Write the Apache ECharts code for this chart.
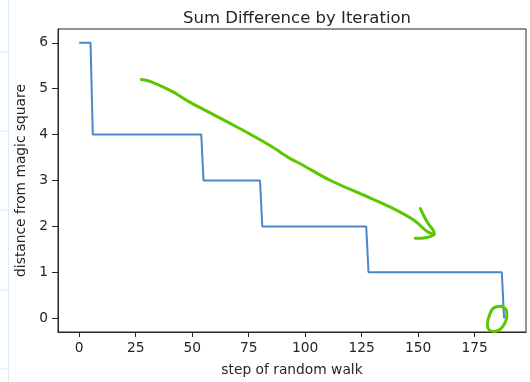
<!DOCTYPE html>
<html>
<head>
<meta charset="utf-8">
<script src="https://cdn.jsdelivr.net/npm/echarts@6/dist/echarts.min.js"></script>
<style>
  html, body { margin: 0; padding: 0; background: #fff; }
  #chart { width: 530px; height: 382px; }
</style>
</head>
<body>
<div id="chart"></div>
<script>
// step line: [step, distance]
const walkSteps = [0, 5, 6, 54, 55, 80, 81, 127, 128, 187, 188];
const walkDistance = [6, 6, 4, 4, 3, 3, 2, 2, 1, 1, 0];
const xTicks = [0, 25, 50, 75, 100, 125, 150, 175];
const yTicks = [0, 1, 2, 3, 4, 5, 6];

// hand-drawn green annotation in data units
const arrowX = [27.5, 31.9, 41.5, 48.1, 56.9, 65.7, 74.5, 84.8, 93.3, 98.0, 111.2, 125.9, 137.7, 148.0, 153.9, 157.1];
const arrowY = [5.20, 5.15, 4.93, 4.73, 4.50, 4.27, 4.04, 3.75, 3.48, 3.36, 3.00, 2.68, 2.42, 2.14, 1.89, 1.82];
const headX = [150.9, 153.9, 157.1, 153.9, 148.7];
const headY = [2.39, 2.10, 1.85, 1.76, 1.74];
const ringX = [187.0, 189.2, 187.7, 183.3, 180.6, 181.8, 184.0, 187.0];
const ringY = [0.26, 0.13, -0.16, -0.29, -0.14, 0.10, 0.24, 0.26];

const zip = (xs, ys) => xs.map((x, i) => [x, ys[i]]);

const chart = echarts.init(document.getElementById('chart'));
const font = 'DejaVu Sans';
const green = '#5ac800';

const option = {
  animation: false,
  backgroundColor: '#fff',
  title: {
    text: 'Sum Difference by Iteration',
    left: 292,
    top: 5,
    textAlign: 'center',
    textStyle: { fontFamily: font, fontSize: 16.5, fontWeight: 'normal', color: '#262626' }
  },
  grid: {
    left: 58, right: 4, top: 29, bottom: 46,
    show: true, borderColor: '#262626', borderWidth: 1
  },
  xAxis: {
    type: 'value',
    min: -9.4,
    max: 197.7,
    name: 'step of random walk',
    nameLocation: 'middle',
    nameGap: 31,
    nameTextStyle: { fontFamily: font, fontSize: 13.8, color: '#262626' },
    axisLine: { show: true, onZero: false, lineStyle: { color: '#262626' } },
    axisTick: { show: true, length: 5, customValues: xTicks, lineStyle: { color: '#262626' } },
    axisLabel: { customValues: xTicks, margin: 9, fontFamily: font, fontSize: 13.8, color: '#262626' },
    splitLine: { show: false }
  },
  yAxis: {
    type: 'value',
    min: -0.3,
    max: 6.3,
    name: 'distance from magic square',
    nameLocation: 'middle',
    nameGap: 30,
    nameTextStyle: { fontFamily: font, fontSize: 13.8, color: '#262626' },
    axisLine: { show: true, onZero: false, lineStyle: { color: '#262626' } },
    axisTick: { show: true, length: 6, customValues: yTicks, lineStyle: { color: '#262626' } },
    axisLabel: { customValues: yTicks, margin: 10, fontFamily: font, fontSize: 13.8, color: '#262626' },
    splitLine: { show: false }
  },
  graphic: [
    { type: 'line', shape: { x1: 8.5, y1: 0, x2: 8.5, y2: 382 }, style: { stroke: '#d8ecfa', lineWidth: 1 } },
    { type: 'line', shape: { x1: 0, y1: 52, x2: 8, y2: 52 }, style: { stroke: '#d8ecfa', lineWidth: 1 } },
    { type: 'line', shape: { x1: 0, y1: 131, x2: 8, y2: 131 }, style: { stroke: '#d8ecfa', lineWidth: 1 } },
    { type: 'line', shape: { x1: 0, y1: 210, x2: 8, y2: 210 }, style: { stroke: '#d8ecfa', lineWidth: 1 } },
    { type: 'line', shape: { x1: 0, y1: 290, x2: 8, y2: 290 }, style: { stroke: '#d8ecfa', lineWidth: 1 } },
    { type: 'line', shape: { x1: 0, y1: 369, x2: 8, y2: 369 }, style: { stroke: '#d8ecfa', lineWidth: 1 } }
  ],
  series: [
    {
      type: 'line',
      data: zip(walkSteps, walkDistance),
      symbol: 'none',
      lineStyle: { color: '#4a86c8', width: 2 },
      z: 3
    },
    {
      type: 'line',
      data: zip(arrowX, arrowY),
      symbol: 'none',
      smooth: 0.3,
      lineStyle: { color: green, width: 3, cap: 'round', join: 'round' },
      z: 4
    },
    {
      type: 'line',
      data: zip(headX, headY),
      symbol: 'none',
      smooth: 0.4,
      lineStyle: { color: green, width: 3, cap: 'round', join: 'round' },
      z: 4
    },
    {
      type: 'line',
      data: zip(ringX, ringY),
      symbol: 'none',
      smooth: 0.5,
      clip: false,
      lineStyle: { color: green, width: 3, cap: 'round', join: 'round' },
      z: 4
    }
  ]
};

chart.setOption(option);
window.addEventListener('resize', () => {
  chart.resize();
});
</script>
</body>
</html>
